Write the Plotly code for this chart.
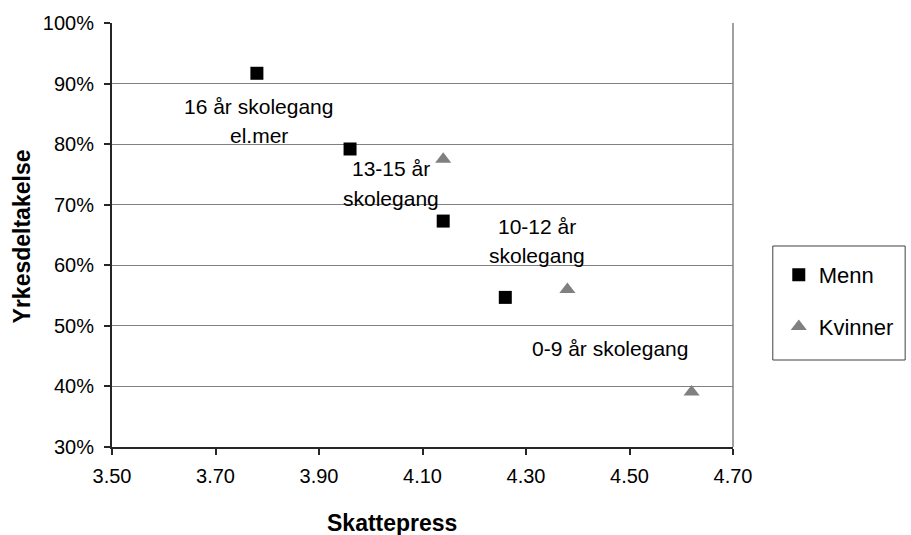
import plotly.graph_objects as go

# Yrkesdeltakelse mot skattepress, etter utdanningsnivå
menn_skattepress = [3.78, 3.96, 4.14, 4.26]
menn_yrkesdeltakelse = [0.917, 0.792, 0.673, 0.547]

kvinner_skattepress = [4.14, 4.38, 4.62]
kvinner_yrkesdeltakelse = [0.775, 0.560, 0.391]

x_ticks = [3.50, 3.70, 3.90, 4.10, 4.30, 4.50, 4.70]
y_ticks = [0.30, 0.40, 0.50, 0.60, 0.70, 0.80, 0.90, 1.00]

gruppe_etiketter = [
    "16 år skolegang<br>el.mer",
    "13-15 år<br>skolegang",
    "10-12 år<br>skolegang",
    "0-9 år skolegang",
]
# centre of each label block (data coords) and line spacing
etikett_plass = [(3.784, 0.862), (4.040, 0.759), (4.321, 0.664), (4.463, 0.463)]
linjeavstand = 0.0485

FONT = "Arial, Liberation Sans, sans-serif"

fig = go.Figure()
fig.add_trace(go.Scatter(
    x=menn_skattepress, y=menn_yrkesdeltakelse, mode="markers", name="Menn",
    marker=dict(symbol="square", size=13, color="black"),
    legendgroup="m",
))
fig.add_trace(go.Scatter(
    x=kvinner_skattepress, y=kvinner_yrkesdeltakelse, mode="markers", name="Kvinner",
    marker=dict(symbol="triangle-up", size=14, color="#808080"),
    legendgroup="k",
))

annotations = []
for tekst, (ax, ay) in zip(gruppe_etiketter, etikett_plass):
    for i, linje in enumerate(tekst.split("<br>")):
        annotations.append(dict(
            x=ax, y=ay - i * linjeavstand, xref="x", yref="y", text=linje,
            showarrow=False, xanchor="center", yanchor="middle",
            font=dict(family=FONT, size=21, color="black"),
        ))

# axis titles
annotations.append(dict(
    x=(393 - 112) / 624, y=-(523 - 447) / 424, xref="paper", yref="paper",
    text="<b>Skattepress</b>", showarrow=False, xanchor="center", yanchor="middle",
    font=dict(family=FONT, size=23, color="black"),
))
annotations.append(dict(
    x=-(112 - 22) / 624, y=(447 - 236) / 424, xref="paper", yref="paper",
    text="<b>Yrkesdeltakelse</b>", showarrow=False, textangle=-90,
    xanchor="center", yanchor="middle",
    font=dict(family=FONT, size=23, color="black"),
))

shapes = [
    # right border of the plot area
    dict(type="line", xref="paper", yref="paper", x0=1, x1=1, y0=0, y1=1,
         line=dict(color="#808080", width=1.5)),
    # legend frame
    dict(type="rect", xref="paper", yref="paper",
         x0=(776 - 112) / 624, x1=(909 - 112) / 624,
         y0=(447 - 360) / 424, y1=(447 - 246) / 424,
         line=dict(color="#404040", width=1), fillcolor="white"),
]

fig.update_layout(
    width=911, height=535,
    margin=dict(l=112, r=175, t=23, b=88, pad=0),
    paper_bgcolor="white", plot_bgcolor="white",
    font=dict(family=FONT, size=20, color="black"),
    showlegend=True,
    legend=dict(
        x=(782 - 112) / 624, y=(447 - 254) / 424, xref="paper", yref="paper",
        xanchor="left", yanchor="top",
        bgcolor="rgba(0,0,0,0)", borderwidth=0,
        font=dict(family=FONT, size=22, color="black"),
        tracegroupgap=20, traceorder="grouped",
    ),
    annotations=annotations,
    shapes=shapes,
)
fig.update_xaxes(
    range=[3.5, 4.7], tickvals=x_ticks, tickformat=".2f",
    showgrid=False, zeroline=False,
    showline=True, linecolor="#262626", linewidth=2,
    ticks="outside", ticklen=6, tickcolor="#262626", tickwidth=1.5,
    ticklabelstandoff=4,
    tickfont=dict(family=FONT, size=20, color="black"),
)
fig.update_yaxes(
    range=[0.30, 1.00], tickvals=y_ticks, tickformat=".0%",
    showgrid=True, gridcolor="#808080", gridwidth=1, zeroline=False,
    showline=True, linecolor="#262626", linewidth=2,
    ticks="outside", ticklen=6, tickcolor="#262626", tickwidth=1.5,
    ticklabelstandoff=6,
    tickfont=dict(family=FONT, size=20, color="black"),
)

fig.write_html("out.html")
